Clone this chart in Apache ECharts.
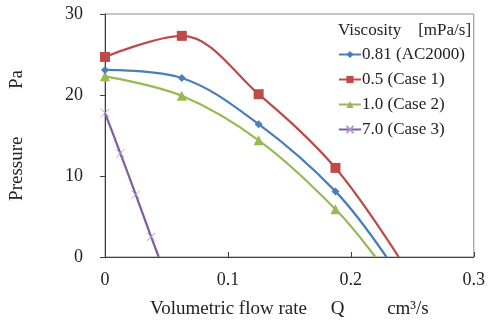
<!DOCTYPE html>
<html>
<head>
<meta charset="utf-8">
<script src="https://cdn.jsdelivr.net/npm/echarts@6/dist/echarts.min.js"></script>
<style>
  html, body { margin: 0; padding: 0; background: #fff; }
  #main { width: 488px; height: 324px; }
</style>
</head>
<body>
<div id="main"></div>
<script>
// flow rate (cm3/s) / pressure (Pa)
const names = ['0.81 (AC2000)', '0.5 (Case 1)', '1.0 (Case 2)', '7.0 (Case 3)'];
const q081 = [0, 0.0625, 0.125, 0.1875, 0.229];
const p081 = [23.1, 22.1, 16.4, 8.1, 0];
const q05 = [0, 0.0625, 0.125, 0.1875, 0.239];
const p05 = [24.7, 27.3, 20.1, 11.0, 0];
const q10 = [0, 0.0625, 0.125, 0.1875, 0.22];
const p10 = [22.3, 19.9, 14.4, 5.9, 0];
const q70 = [0, 0.0125, 0.025, 0.0375, 0.0437];
const p70 = [17.8, 12.8, 7.7, 2.5, 0];
const xTicks = [0, 0.1, 0.2, 0.3];

const colors = ['#4a7ebb', '#be4b48', '#98b954', '#7d60a0'];
const font = 'Liberation Serif';
const crossPath = 'path://M0,0 L10,10 M10,0 L0,10';

// last point sits on the axis and has no marker
function pts(qs, ps) {
  return qs.map((q, i) => i === qs.length - 1 ? { value: [q, ps[i]], symbol: 'none' } : [q, ps[i]]);
}

function line(i, qs, ps, symbol, size, extra) {
  return Object.assign({
    name: names[i],
    type: 'line',
    data: pts(qs, ps),
    smooth: 0.35,
    symbol: symbol,
    symbolSize: size,
    lineStyle: { color: colors[i], width: 2.25 },
    itemStyle: { color: colors[i] },
    z: 10 - i
  }, extra || {});
}

const chart = echarts.init(document.getElementById('main'));
chart.setOption({
  animation: false,
  textStyle: { fontFamily: font },
  grid: { left: 102, right: 11, top: 14, bottom: 67, show: true, borderColor: '#8c8c8c', borderWidth: 1 },
  title: {
    text: 'Viscosity    [mPa/s]',
    left: 338, top: 22, padding: 0,
    textStyle: { fontFamily: font, fontSize: 17, fontWeight: 'normal', color: '#222' }
  },
  legend: {
    orient: 'vertical',
    left: 338, top: 46, padding: 0,
    itemWidth: 22, itemHeight: 9, itemGap: 8,
    textStyle: { fontFamily: font, fontSize: 17, color: '#222', padding: [0, 0, 0, -4] },
    data: names
  },
  xAxis: {
    type: 'value', min: 0, max: 0.3, interval: 0.1,
    name: 'Volumetric flow rate     Q         cm³/s',
    nameLocation: 'middle', nameGap: 43,
    nameTextStyle: { fontFamily: font, fontSize: 19, color: '#222' },
    axisLine: { show: true, lineStyle: { color: '#404040', width: 1 } },
    axisTick: { show: true, inside: true, length: 5, lineStyle: { color: '#404040' } },
    axisLabel: { fontFamily: font, fontSize: 18, color: '#222', margin: 14,
      formatter: v => { const t = xTicks.find(x => Math.abs(x - v) < 1e-9); return t === undefined ? '' : String(t); } },
    splitLine: { show: false }
  },
  yAxis: {
    type: 'value', min: 0, max: 30, interval: 10,
    name: 'Pressure          Pa',
    nameLocation: 'middle', nameGap: 78,
    nameTextStyle: { fontFamily: font, fontSize: 19, color: '#222' },
    axisLine: { show: true, lineStyle: { color: '#404040', width: 1 } },
    axisTick: { show: true, length: 5, lineStyle: { color: '#404040' } },
    axisLabel: { fontFamily: font, fontSize: 18, color: '#222', margin: 22 },
    splitLine: { show: false }
  },
  series: [
    line(0, q081, p081, 'diamond', 8),
    line(1, q05, p05, 'rect', 10),
    line(2, q10, p10, 'triangle', 10),
    line(3, q70, p70, crossPath, 8, {
      itemStyle: { color: colors[3], borderColor: '#ad9bc9', borderWidth: 1 }
    })
  ]
});
</script>
</body>
</html>
